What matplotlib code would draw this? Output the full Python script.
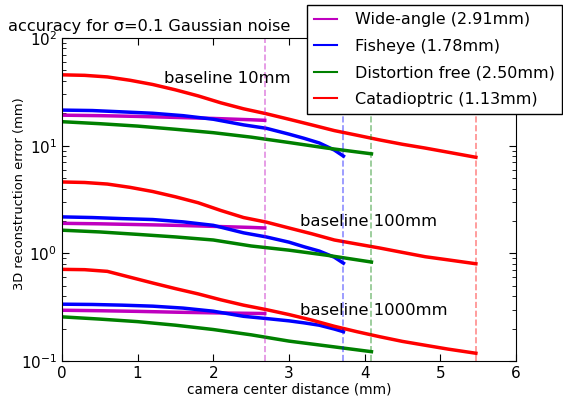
import numpy as np
import matplotlib
matplotlib.use('Agg')
import matplotlib.pyplot as plt

# values
x_red = [0, 0.3, 0.6, 0.9, 1.2, 1.5, 1.8, 2.1, 2.4, 2.7, 3.0, 3.3, 3.6, 3.9, 4.2, 4.5, 4.8, 5.1, 5.47]
red_10 = [45.5, 45, 43.5, 40.5, 37, 33, 29, 25, 22, 19.8, 17.6, 15.6, 13.8, 12.5, 11.3, 10.3, 9.5, 8.7, 7.8]
red_100 = [4.6, 4.55, 4.4, 4.1, 3.75, 3.35, 2.95, 2.5, 2.15, 1.95, 1.72, 1.52, 1.33, 1.22, 1.12, 1.02, 0.93, 0.87, 0.80]
red_1000 = [0.71, 0.705, 0.68, 0.60, 0.53, 0.47, 0.42, 0.37, 0.33, 0.30, 0.27, 0.24, 0.21, 0.187, 0.168, 0.152, 0.14, 0.129, 0.118]

x_blue = [0, 0.4, 0.8, 1.2, 1.6, 2.0, 2.4, 2.7, 3.0, 3.2, 3.4, 3.6, 3.72]
blue_10 = [21.4, 21.2, 20.6, 20.0, 19.0, 17.6, 15.6, 14.5, 12.8, 11.7, 10.6, 9.1, 8.0]
blue_100 = [2.18, 2.15, 2.1, 2.06, 1.96, 1.82, 1.55, 1.42, 1.27, 1.15, 1.05, 0.92, 0.81]
blue_1000 = [0.337, 0.335, 0.33, 0.323, 0.31, 0.29, 0.26, 0.248, 0.236, 0.226, 0.215, 0.198, 0.187]

x_mag = [0, 0.5, 1.0, 1.5, 2.0, 2.5, 2.68]
mag_10 = [19.2, 19.0, 18.7, 18.3, 17.9, 17.4, 17.2]
mag_100 = [1.90, 1.88, 1.85, 1.82, 1.78, 1.74, 1.72]
mag_1000 = [0.296, 0.293, 0.289, 0.284, 0.28, 0.277, 0.276]

x_green = [0, 0.5, 1.0, 1.5, 2.0, 2.5, 3.0, 3.5, 4.09]
green_10 = [16.7, 16.0, 15.2, 14.2, 13.2, 12.0, 10.7, 9.5, 8.4]
green_100 = [1.64, 1.58, 1.50, 1.42, 1.33, 1.17, 1.07, 0.96, 0.83]
green_1000 = [0.257, 0.245, 0.232, 0.215, 0.196, 0.175, 0.153, 0.138, 0.122]

labels = ['Wide-angle (2.91mm)', 'Fisheye (1.78mm)', 'Distortion free (2.50mm)', 'Catadioptric (1.13mm)']
colors = ['#bf00bf', '#0000ff', '#008000', '#ff0000']
max_dist = [2.68, 3.72, 4.09, 5.47]

baseline_text = ['baseline 10mm', 'baseline 100mm', 'baseline 1000mm']
baseline_pos = [(1.35, 42), (3.14, 1.96), (3.14, 0.296)]

fig = plt.figure(figsize=(5.63, 3.98), dpi=100)
ax = fig.add_axes([0.110, 0.093, 0.8065, 0.8115])

series = [
    (x_mag, [mag_10, mag_100, mag_1000]),
    (x_blue, [blue_10, blue_100, blue_1000]),
    (x_green, [green_10, green_100, green_1000]),
    (x_red, [red_10, red_100, red_1000]),
]

for (xs, ys), lab, c in zip(series, labels, colors):
    for i, y in enumerate(ys):
        ax.plot(xs, y, color=c, lw=2.5, label=lab if i == 0 else None)

for d, c in zip(max_dist, colors):
    ax.axvline(d, color=c, ls='--', lw=1.2, alpha=0.45)

for txt, (tx, ty) in zip(baseline_text, baseline_pos):
    ax.text(tx, ty, txt, fontsize=11.8, va='center', ha='left')

ax.set_yscale('log')
ax.set_xlim(0, 6)
ax.set_ylim(0.1, 100)
ax.set_xlabel('camera center distance (mm)', fontsize=9.8, labelpad=1)
ax.set_ylabel('3D reconstruction error (mm)', fontsize=9.4)
ax.yaxis.set_label_coords(-0.079, 0.517)
ax.tick_params(which='both', direction='in', top=True, right=True, labelsize=11)
ax.tick_params(which='major', length=5)
ax.tick_params(which='minor', length=3)

fig.text(8 / 563, 1 - 31 / 398, 'accuracy for σ=0.1 Gaussian noise', fontsize=11.6, va='baseline')

leg = fig.legend(loc='upper left', bbox_to_anchor=(307 / 563, 1 - 5 / 398), fontsize=11.5,
                 fancybox=False, framealpha=1, edgecolor='black', borderaxespad=0,
                 handlelength=1.45, handletextpad=1.1, borderpad=0.45, labelspacing=0.72)
for line in leg.get_lines():
    line.set_linewidth(1.5)

fig.savefig('out.png', dpi=100)
